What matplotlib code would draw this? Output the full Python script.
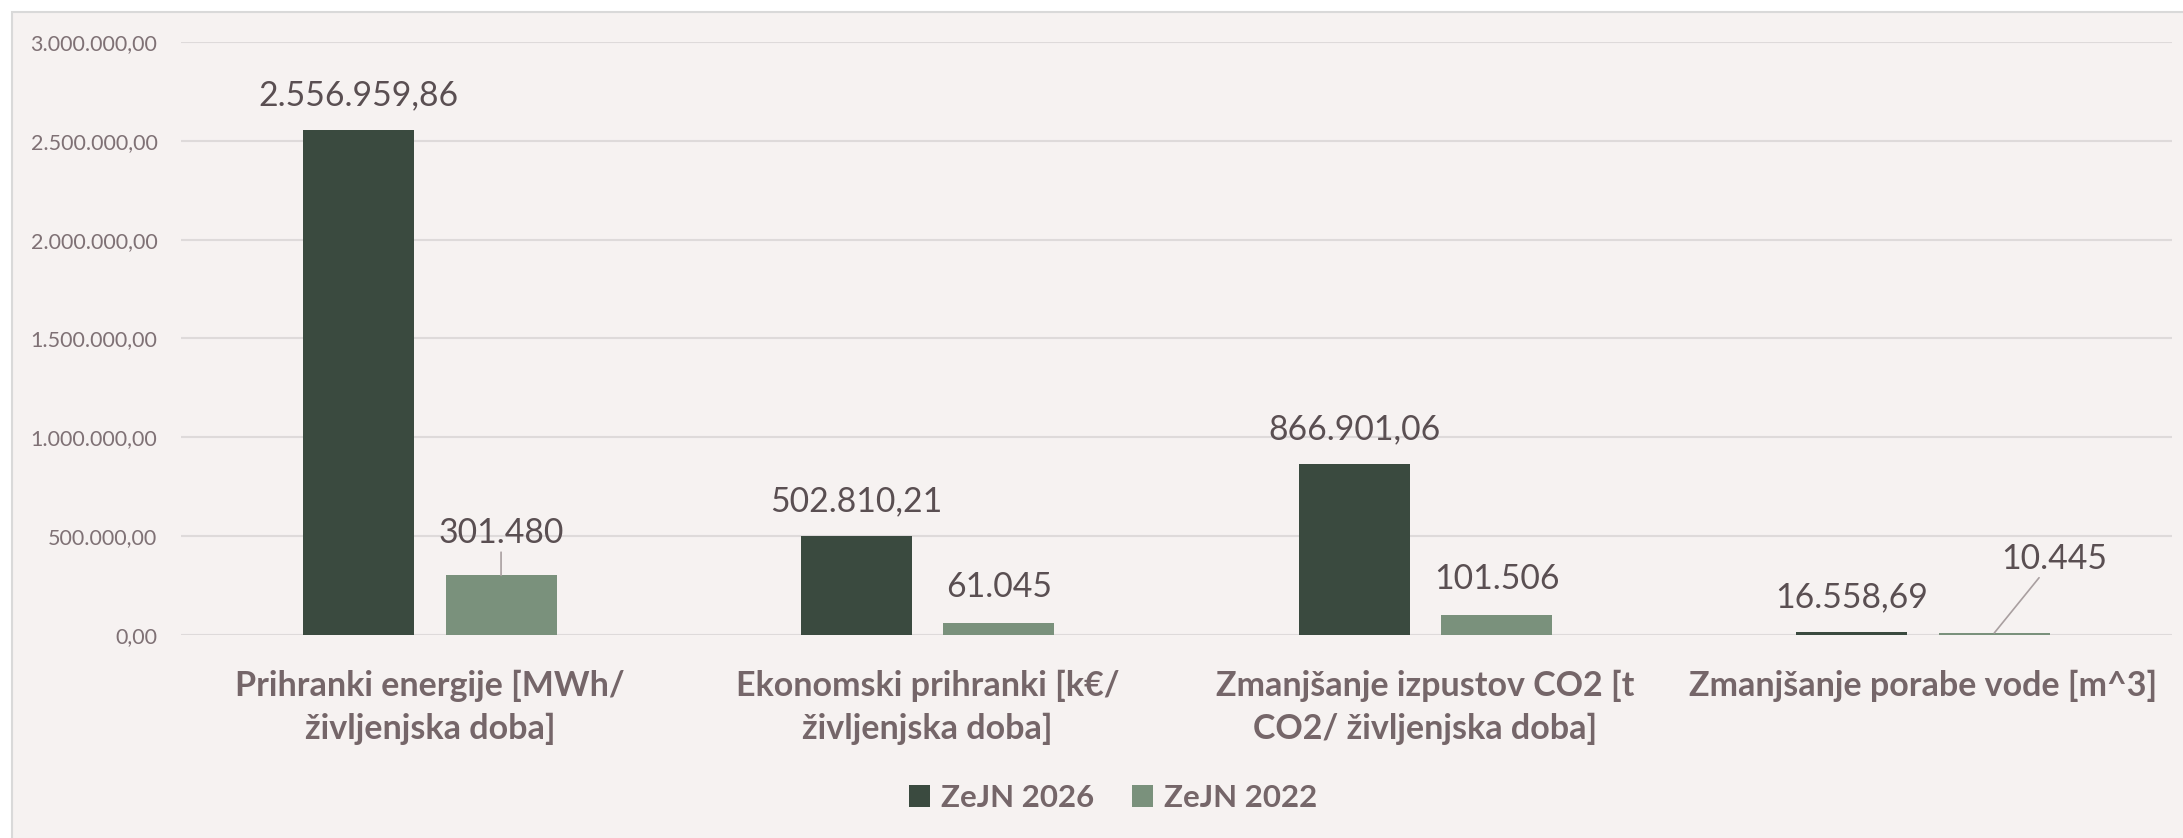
import numpy as np
import matplotlib.pyplot as plt
from matplotlib.patches import Rectangle

# data
categories = ['Prihranki energije [MWh/\nživljenjska doba]',
              'Ekonomski prihranki [k€/\nživljenjska doba]',
              'Zmanjšanje izpustov CO2 [t\nCO2/ življenjska doba]',
              'Zmanjšanje porabe vode [m^3]']
zejn_2026 = [2556959.86, 502810.21, 866901.06, 16558.69]
zejn_2022 = [301480, 61045, 101506, 10445]
series_names = ['ZeJN 2026', 'ZeJN 2022']
y_ticks = [0, 500000, 1000000, 1500000, 2000000, 2500000, 3000000]

# barve
c_dark = '#3A4A3F'
c_light = '#7A917C'
bg = '#F6F2F1'
txt_tick = '#7F7175'
txt_val = '#5A4F52'
txt_cat = '#756669'

plt.rcParams['font.family'] = ['Lato', 'DejaVu Sans']


def fmt_dec(v):
    s = '{:,.2f}'.format(v)
    return s.replace(',', 'X').replace('.', ',').replace('X', '.')


def fmt_int(v):
    return '{:,.0f}'.format(v).replace(',', '.')


fig = plt.figure(figsize=(21.83, 8.38), dpi=100, facecolor='white')
# okvir grafa
frame = Rectangle((12 / 2183, -0.01), 1.0, 1 - 12 / 838 + 0.01, transform=fig.transFigure,
                  facecolor=bg, edgecolor='#D9D9D9', linewidth=1.5, zorder=-10)
fig.add_artist(frame)

ax = fig.add_axes([181 / 2183, 1 - 635 / 838, (2172 - 181) / 2183, (635 - 42) / 838])
ax.set_facecolor('none')
ax.set_zorder(1)

x = np.arange(len(categories))
w = 0.223
off = 0.143
b1 = ax.bar(x - off, zejn_2026, w, color=c_dark, label=series_names[0], zorder=3)
b2 = ax.bar(x + off, zejn_2022, w, color=c_light, label=series_names[1], zorder=3)

ax.set_xlim(-0.5, 3.5)
ax.set_ylim(0, 3000000)
ax.set_yticks(y_ticks)
ax.set_yticklabels([fmt_dec(v) for v in y_ticks], fontsize=15.5, color=txt_tick)
ax.grid(axis='y', color='#DEDADA', linewidth=1.5, zorder=0)
ax.set_axisbelow(True)
for s in ax.spines.values():
    s.set_visible(False)
ax.tick_params(axis='y', length=0, pad=17)
ax.tick_params(axis='x', length=0, pad=25)
ax.set_xticks(x)
ax.set_xticklabels(categories, fontsize=24.5, fontweight='bold', color=txt_cat, linespacing=1.42)

# oznake vrednosti
for xi, v in zip(x, zejn_2026):
    ax.annotate(fmt_dec(v), (xi - off, v), xytext=(0, 34), textcoords='offset pixels',
                ha='center', va='center', fontsize=24.3, color=txt_val)

light_offsets = [(0, 42), (0, 36), (0, 36), (60, 74)]
for i, (xi, v) in enumerate(zip(x, zejn_2022)):
    dx, dy = light_offsets[i]
    arrow = None
    if i in (0, 3):
        arrow = dict(arrowstyle='-', color='#A99FA0', lw=1.2, shrinkA=0, shrinkB=0)
    ax.annotate(fmt_int(v), (xi + off, v), xytext=(dx, dy), textcoords='offset pixels',
                ha='center', va='center', fontsize=24.3, color=txt_val, arrowprops=arrow)

fig.legend(handles=[b1, b2], labels=series_names, loc='center', ncol=2,
           bbox_to_anchor=(1113 / 2183, 1 - 798 / 838), frameon=False,
           prop={'size': 22.5, 'weight': 'bold'}, labelcolor=txt_cat,
           handlelength=0.67, handleheight=0.67, handletextpad=0.35, columnspacing=1.2)

fig.savefig('out.png', dpi=100, facecolor='white')
